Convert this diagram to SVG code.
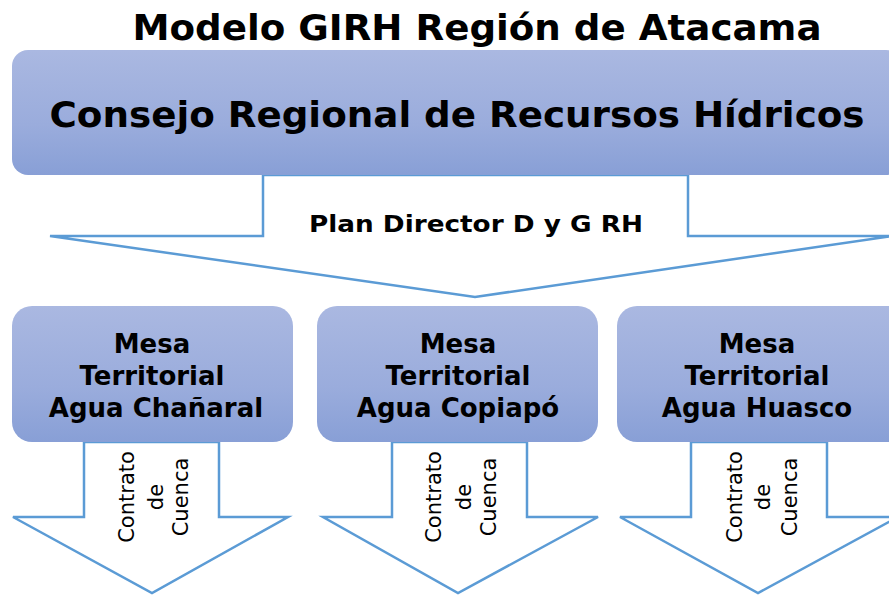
<svg xmlns="http://www.w3.org/2000/svg" width="889" height="595" viewBox="0 0 889 595">
<defs>
<linearGradient id="g" x1="0" y1="0" x2="0" y2="1">
<stop offset="0" stop-color="#AAB8E1"/>
<stop offset="0.6" stop-color="#9AACDC"/>
<stop offset="1" stop-color="#889FD6"/>
</linearGradient>
<style>
.box{fill:url(#g);}
.arr{fill:#fff;stroke:#5B9BD5;stroke-width:2.5;stroke-linejoin:miter;}
.b{font-family:"DejaVu Sans",Verdana,sans-serif;font-weight:bold;fill:#000;text-anchor:middle;}
.m{font-size:26px;}
.v{font-family:"DejaVu Sans",Verdana,sans-serif;font-size:21px;fill:#000;text-anchor:middle;}
</style>
</defs>
<rect width="889" height="595" fill="#fff"/>
<text class="b" x="477" y="40" font-size="35" textLength="689" lengthAdjust="spacingAndGlyphs">Modelo GIRH Región de Atacama</text>
<g id="connectors">
<polygon class="arr" points="263,175 688,175 688,236 892,236 475,297 50,236 263,236"/>
<polygon class="arr" points="84,442 219,442 219,517 288,517 152,593 13,517 84,517"/>
<polygon class="arr" points="392,442 527,442 527,517 598,517 458,593 323,517 392,517"/>
<polygon class="arr" points="691,442 827,442 827,517 898,517 758,593 620,517 691,517"/>
</g>
<g id="consejo">
<rect class="box" x="12" y="50" width="890" height="125" rx="16"/>
<text class="b" x="457" y="127" font-size="36" textLength="815" lengthAdjust="spacingAndGlyphs">Consejo Regional de Recursos Hídricos</text>
</g>
<text class="b" x="476" y="232" font-size="23" textLength="334" lengthAdjust="spacingAndGlyphs">Plan Director D y G RH</text>
<g id="mesa1">
<rect class="box" x="12" y="306" width="281" height="136" rx="20"/>
<text class="b m" x="152" y="353">Mesa</text>
<text class="b m" x="152" y="385">Territorial</text>
<text class="b m" x="156" y="417">Agua Chañaral</text>
</g>
<g id="mesa2">
<rect class="box" x="317" y="306" width="281" height="136" rx="20"/>
<text class="b m" x="458" y="353">Mesa</text>
<text class="b m" x="458" y="385">Territorial</text>
<text class="b m" x="458" y="417">Agua Copiapó</text>
</g>
<g id="mesa3">
<rect class="box" x="617" y="306" width="290" height="136" rx="20"/>
<text class="b m" x="757" y="353">Mesa</text>
<text class="b m" x="757" y="385">Territorial</text>
<text class="b m" x="757" y="417">Agua Huasco</text>
</g>
<g id="labels1">
<text class="v" transform="translate(134,497) rotate(-90)">Contrato</text>
<text class="v" transform="translate(163,497) rotate(-90)">de</text>
<text class="v" transform="translate(188,497) rotate(-90)">Cuenca</text>
</g>
<g id="labels2">
<text class="v" transform="translate(441,497) rotate(-90)">Contrato</text>
<text class="v" transform="translate(471,497) rotate(-90)">de</text>
<text class="v" transform="translate(496,497) rotate(-90)">Cuenca</text>
</g>
<g id="labels3">
<text class="v" transform="translate(742,497) rotate(-90)">Contrato</text>
<text class="v" transform="translate(770,497) rotate(-90)">de</text>
<text class="v" transform="translate(797,497) rotate(-90)">Cuenca</text>
</g>
</svg>
